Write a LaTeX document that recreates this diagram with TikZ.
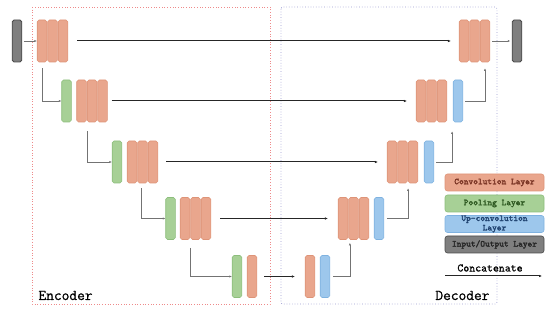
\documentclass[tikz,border=0pt]{standalone}
\usepackage{fontspec}
\setmonofont{Latin Modern Mono}
\newfontfamily\monomed{Latin Modern Mono}[FakeBold=0.9]
\newfontfamily\monobold{Latin Modern Mono}[FakeBold=2.2]
\usetikzlibrary{arrows.meta}
\definecolor{convf}{HTML}{E9A68D}
\definecolor{convd}{HTML}{DE9478}
\definecolor{poolf}{HTML}{A7D096}
\definecolor{poold}{HTML}{8DBE7C}
\definecolor{upf}{HTML}{9DC7EC}
\definecolor{upd}{HTML}{7FB2E0}
\definecolor{iof}{HTML}{7F7F7F}
\definecolor{iod}{HTML}{4A4A4A}
\definecolor{enccol}{HTML}{EE8A8A}
\definecolor{deccol}{HTML}{9A9AD0}
\definecolor{convt}{HTML}{7A3424}
\definecolor{poolt}{HTML}{2F5A22}
\definecolor{upt}{HTML}{1F4270}
\tikzset{
  blk/.style={rounded corners=1.8pt, line width=0.6pt, minimum width=9.6pt, inner sep=0pt},
  conv/.style={blk, fill=convf, draw=convd},
  pool/.style={blk, fill=poolf, draw=poold},
  upc/.style={blk, fill=upf, draw=upd},
  io/.style={blk, fill=iof, draw=iod, line width=0.8pt},
  hA/.style={minimum height=42pt},
  concat/.style={draw=black!85, line width=1pt, -{Latex[length=3pt,width=2.6pt]}},
  skip/.style={draw=black!55, line width=0.6pt, -{Latex[length=2.5pt,width=2.2pt]}},
  legbox/.style={rounded corners=2.5pt, line width=0.6pt, minimum width=99pt, minimum height=17pt, inner sep=0pt, font=\monobold\fontsize{9}{9.4}\selectfont, align=center},
  boxlbl/.style={font=\monomed\fontsize{15}{16}\selectfont}
}
\begin{document}
\begin{tikzpicture}[x=1pt,y=-1pt]
\useasboundingbox (0,0) rectangle (550,312);
% group boxes
\draw[enccol, dotted, line width=0.7pt] (32,7) rectangle (270,304);
\draw[deccol, dotted, line width=0.7pt, rounded corners=2pt] (281,7) rectangle (497,304);
\node[boxlbl, anchor=base west] (enc) at (35,300) {Encoder};
\node[boxlbl, anchor=base east] (dec) at (493,300) {Decoder};
% encoder
\node[io, hA] (in) at (17,41) {};
\node[conv, hA] (c1a) at (42,41) {};
\node[conv, hA] (c1b) at (52.5,41) {};
\node[conv, hA] (c1c) at (63,41) {};
\node[pool, hA] (p2) at (66.5,101) {};
\node[conv, hA] (c2a) at (81.5,101) {};
\node[conv, hA] (c2b) at (92,101) {};
\node[conv, hA] (c2c) at (102.5,101) {};
\node[pool, hA] (p3) at (117,162) {};
\node[conv, hA] (c3a) at (132,162) {};
\node[conv, hA] (c3b) at (142.5,162) {};
\node[conv, hA] (c3c) at (153,162) {};
\node[pool, hA] (p4) at (170.5,218.5) {};
\node[conv, hA] (c4a) at (185,218.5) {};
\node[conv, hA] (c4b) at (195.5,218.5) {};
\node[conv, hA] (c4c) at (206,218.5) {};
\node[pool, hA] (p5) at (237,276.5) {};
\node[conv, hA] (c5a) at (252,276.5) {};
% decoder
\node[conv, hA] (d5a) at (310,276.5) {};
\node[upc, hA] (u5) at (325,276.5) {};
\node[conv, hA] (d4a) at (343,218.5) {};
\node[conv, hA] (d4b) at (353.5,218.5) {};
\node[conv, hA] (d4c) at (364,218.5) {};
\node[upc, hA] (u4) at (379,218.5) {};
\node[conv, hA] (d3a) at (392,162) {};
\node[conv, hA] (d3b) at (402.5,162) {};
\node[conv, hA] (d3c) at (413,162) {};
\node[upc, hA] (u3) at (429,162) {};
\node[conv, hA] (d2a) at (421,101) {};
\node[conv, hA] (d2b) at (431.5,101) {};
\node[conv, hA] (d2c) at (442,101) {};
\node[upc, hA] (u2) at (458,101) {};
\node[conv, hA] (d1a) at (464,41) {};
\node[conv, hA] (d1b) at (474.5,41) {};
\node[conv, hA] (d1c) at (485,41) {};
\node[io, hA] (out) at (517,41) {};
% input / output arrows
\draw[skip] ([xshift=1.5pt]in.east) -- (c1a.west);
\draw[skip] ([xshift=2pt]d1c.east) -- ([xshift=-1.5pt]out.west);
% down paths
\draw[skip] ([yshift=-6pt]c1a.south) |- (p2.west);
\draw[skip] ([yshift=-9pt]c2b.south west) |- (p3.west);
\draw[skip] ([xshift=-1.5pt,yshift=-5pt]c3b.south) |- (p4.west);
\draw[skip] ([yshift=-8pt]c4b.south west) |- (p5.west);
% concatenations
\draw[concat] ([xshift=9pt]c1c.east) -- ([xshift=-8pt]d1a.west);
\draw[concat] ([xshift=4pt]c2c.east) -- ([xshift=-9pt]d2a.west);
\draw[concat] ([xshift=8pt]c3c.east) -- ([xshift=-9pt]d3a.west);
\draw[concat] ([xshift=9pt]c4c.east) -- ([xshift=-10pt]d4a.west);
\draw[concat] ([xshift=7pt]c5a.east) -- ([xshift=-10pt]d5a.west);
% up paths
\draw[skip] ([xshift=3pt]u5.east) -| ([xshift=1.5pt,yshift=-3pt]d4b.south west);
\draw[skip] ([xshift=3pt]u4.east) -| ([xshift=0.5pt,yshift=-5pt]d3b.south east);
\draw[skip] ([xshift=2pt]u3.east) -| ([xshift=5pt,yshift=-9pt]d2c.south east);
\draw[skip] ([xshift=2pt]u2.east) -| ([yshift=-6pt]d1c.south);
% legend
\node[legbox, fill=convf, draw=convd, text=convt] (lconv) at (494.5,182.5) {Convolution Layer};
\node[legbox, fill=poolf, draw=poold, text=poolt] (lpool) at (494.5,203.5) {Pooling Layer};
\node[legbox, fill=upf, draw=upd, text=upt] (lup) at (494.5,224) {Up-convolution\\Layer};
\node[legbox, fill=iof, draw=iod, text=black!85] (lio) at (494.5,244.5) {Input/Output Layer};
\node[font=\monomed\fontsize{11.5}{12}\selectfont] (lcat) at (490,268) {Concatenate};
\coordinate (ca) at (445,276);
\coordinate (cb) at (542,276);
\draw[concat] (ca) -- (cb);
\end{tikzpicture}
\end{document}
